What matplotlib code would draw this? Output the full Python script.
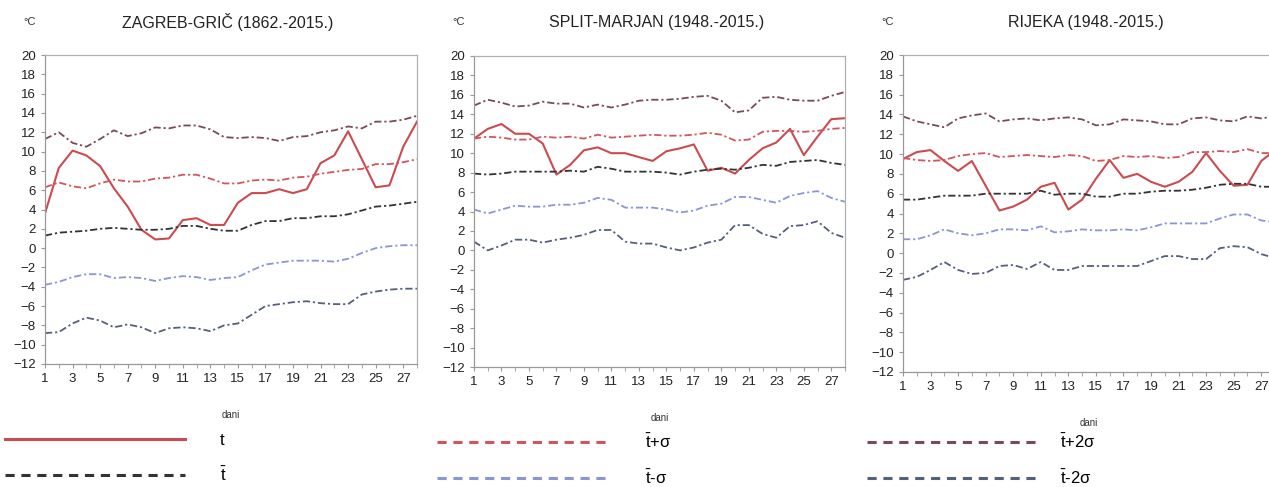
import matplotlib.pyplot as plt
import numpy as np

plt.rcParams['font.family'] = ['Liberation Sans', 'DejaVu Sans']
plt.rcParams['mathtext.fontset'] = 'custom'
plt.rcParams['mathtext.rm'] = 'Liberation Sans'

days = np.arange(1, 29)

# Zagreb-Grič (1862.-2015.)
zg_t = [3.6, 8.3, 10.1, 9.6, 8.5, 6.2, 4.3, 1.9, 0.9, 1.0, 2.9, 3.1, 2.4, 2.4,
        4.7, 5.7, 5.7, 6.1, 5.7, 6.1, 8.8, 9.6, 12.1, 9.2, 6.3, 6.5, 10.5, 13.1]
zg_mean = [1.3, 1.6, 1.7, 1.8, 2.0, 2.1, 2.0, 1.9, 1.9, 2.0, 2.3, 2.3, 2.0, 1.8,
           1.8, 2.4, 2.8, 2.8, 3.1, 3.1, 3.3, 3.3, 3.5, 3.9, 4.3, 4.4, 4.6, 4.8]
zg_p1 = [6.3, 6.8, 6.4, 6.2, 6.7, 7.1, 6.9, 6.9, 7.2, 7.3, 7.6, 7.6, 7.2, 6.7,
         6.7, 7.0, 7.1, 7.0, 7.3, 7.4, 7.7, 7.9, 8.1, 8.2, 8.7, 8.7, 8.9, 9.2]
zg_p2 = [11.3, 12.0, 10.9, 10.5, 11.3, 12.2, 11.6, 11.9, 12.5, 12.4, 12.7, 12.7, 12.3, 11.5,
         11.4, 11.5, 11.4, 11.1, 11.5, 11.6, 12.0, 12.2, 12.6, 12.4, 13.1, 13.1, 13.3, 13.7]
zg_m1 = [-3.8, -3.5, -3.0, -2.7, -2.7, -3.1, -3.0, -3.1, -3.4, -3.1, -2.9, -3.0, -3.3, -3.1,
         -3.0, -2.3, -1.7, -1.5, -1.3, -1.3, -1.3, -1.4, -1.1, -0.5, 0.0, 0.2, 0.3, 0.3]
zg_m2 = [-8.8, -8.7, -7.8, -7.2, -7.5, -8.2, -7.9, -8.2, -8.8, -8.3, -8.2, -8.3, -8.6, -8.0,
         -7.8, -6.9, -6.0, -5.8, -5.6, -5.5, -5.7, -5.8, -5.8, -4.8, -4.5, -4.3, -4.2, -4.2]

# Split-Marjan (1948.-2015.)
st_t = [11.5, 12.5, 13.0, 12.0, 12.0, 11.0, 7.8, 8.8, 10.3, 10.6, 10.0, 10.0, 9.6, 9.2,
        10.2, 10.5, 10.9, 8.2, 8.5, 7.9, 9.3, 10.5, 11.1, 12.5, 9.8, 11.7, 13.5, 13.6]
st_mean = [7.9, 7.8, 7.9, 8.1, 8.1, 8.1, 8.1, 8.2, 8.1, 8.6, 8.4, 8.1, 8.1, 8.1,
           8.0, 7.8, 8.1, 8.3, 8.4, 8.3, 8.5, 8.8, 8.7, 9.1, 9.2, 9.3, 9.0, 8.8]
st_p1 = [11.5, 11.7, 11.6, 11.4, 11.4, 11.7, 11.6, 11.7, 11.5, 11.9, 11.6, 11.7, 11.8, 11.9,
         11.8, 11.8, 11.9, 12.1, 11.9, 11.3, 11.4, 12.2, 12.3, 12.3, 12.2, 12.3, 12.5, 12.6]
st_p2 = [14.9, 15.5, 15.2, 14.8, 14.9, 15.3, 15.1, 15.1, 14.7, 15.0, 14.7, 15.0, 15.4, 15.5,
         15.5, 15.6, 15.8, 15.9, 15.4, 14.2, 14.4, 15.7, 15.8, 15.5, 15.4, 15.4, 15.9, 16.3]
st_m1 = [4.2, 3.8, 4.2, 4.6, 4.5, 4.5, 4.7, 4.7, 4.9, 5.4, 5.2, 4.4, 4.4, 4.4,
         4.2, 3.9, 4.1, 4.6, 4.8, 5.5, 5.5, 5.2, 4.9, 5.6, 5.9, 6.1, 5.4, 5.0]
st_m2 = [0.9, 0.0, 0.5, 1.1, 1.1, 0.8, 1.1, 1.3, 1.6, 2.1, 2.1, 0.9, 0.7, 0.7,
         0.3, 0.0, 0.3, 0.8, 1.1, 2.6, 2.6, 1.7, 1.3, 2.5, 2.6, 3.0, 1.8, 1.3]

# Rijeka (1948.-2015.)
ri_t = [9.5, 10.2, 10.4, 9.3, 8.3, 9.3, 6.8, 4.3, 4.7, 5.4, 6.7, 7.1, 4.4, 5.4,
        7.5, 9.4, 7.6, 8.0, 7.2, 6.7, 7.2, 8.2, 10.1, 8.3, 6.8, 6.9, 9.3, 10.4]
ri_mean = [5.4, 5.4, 5.6, 5.8, 5.8, 5.8, 6.0, 6.0, 6.0, 6.0, 6.3, 5.9, 6.0, 6.0,
           5.7, 5.7, 6.0, 6.0, 6.2, 6.3, 6.3, 6.4, 6.6, 6.9, 7.0, 7.0, 6.7, 6.7]
ri_p1 = [9.6, 9.4, 9.3, 9.4, 9.8, 10.0, 10.1, 9.7, 9.8, 9.9, 9.8, 9.7, 9.9, 9.8,
         9.3, 9.4, 9.8, 9.7, 9.8, 9.6, 9.7, 10.2, 10.2, 10.3, 10.2, 10.5, 10.1, 10.1]
ri_p2 = [13.8, 13.3, 13.0, 12.7, 13.6, 13.9, 14.1, 13.3, 13.5, 13.6, 13.4, 13.6, 13.7, 13.5,
         12.9, 13.0, 13.5, 13.4, 13.3, 13.0, 13.0, 13.6, 13.7, 13.4, 13.3, 13.8, 13.6, 13.8]
ri_m1 = [1.4, 1.4, 1.8, 2.4, 2.0, 1.8, 2.0, 2.4, 2.4, 2.3, 2.7, 2.1, 2.2, 2.4,
         2.3, 2.3, 2.4, 2.3, 2.6, 3.0, 3.0, 3.0, 3.0, 3.5, 3.9, 3.9, 3.3, 3.1]
ri_m2 = [-2.7, -2.4, -1.7, -0.9, -1.7, -2.1, -2.0, -1.3, -1.2, -1.6, -0.9, -1.7, -1.7, -1.3,
         -1.3, -1.3, -1.3, -1.3, -0.8, -0.3, -0.3, -0.6, -0.6, 0.5, 0.7, 0.6, -0.1, -0.5]

titles = ['ZAGREB-GRIČ (1862.-2015.)', 'SPLIT-MARJAN (1948.-2015.)', 'RIJEKA (1948.-2015.)']
stations = [
    (zg_t, zg_mean, zg_p1, zg_p2, zg_m1, zg_m2),
    (st_t, st_mean, st_p1, st_p2, st_m1, st_m2),
    (ri_t, ri_mean, ri_p1, ri_p2, ri_m1, ri_m2),
]
labels = ['t', r'$\bar{\mathrm{t}}$', r'$\bar{\mathrm{t}}$+σ', r'$\bar{\mathrm{t}}$-σ',
          r'$\bar{\mathrm{t}}$+2σ', r'$\bar{\mathrm{t}}$-2σ']

W, H = 1269, 487
# axes boxes in pixels: left, top, right, bottom
boxes = [(45, 55, 417, 364), (474, 56, 845, 367), (903, 55, 1275, 372)]

fig = plt.figure(figsize=(12.69, 4.87), dpi=100)

dash = (0, (4, 1.6, 1.2, 1.6))
handles = None
for i, (data, title, box) in enumerate(zip(stations, titles, boxes)):
    l, t, r, b = box
    ax = fig.add_axes([l / W, 1 - b / H, (r - l) / W, (b - t) / H])
    t_, mean, p1, p2, m1, m2 = data
    h1, = ax.plot(days, t_, color='#cc4b4f', lw=1.5, ls='-')
    h2, = ax.plot(days, mean, color='#333333', lw=1.3, ls=dash)
    h3, = ax.plot(days, p1, color='#d2555a', lw=1.3, ls=dash)
    h4, = ax.plot(days, m1, color='#8a96d6', lw=1.3, ls=dash)
    h5, = ax.plot(days, p2, color='#7a4a58', lw=1.3, ls=dash)
    h6, = ax.plot(days, m2, color='#55607e', lw=1.3, ls=dash)
    if handles is None:
        handles = [h1, h2, h3, h4, h5, h6]

    ax.set_xlim(1, 28)
    ax.set_ylim(-12, 20)
    ax.set_yticks(np.arange(-12, 21, 2))
    ax.set_xticks(np.arange(1, 28, 2))
    ax.set_xticks(np.arange(1, 29), minor=True)
    ax.tick_params(axis='both', labelsize=9.5, colors='#999999', labelcolor='#222222',
                   length=3, width=0.8, direction='out')
    ax.tick_params(axis='x', which='minor', length=3, colors='#999999')
    for s in ax.spines.values():
        s.set_color('#b0b0b0')
        s.set_linewidth(0.9)
    ax.spines['left'].set_color('#999999')
    ax.spines['bottom'].set_color('#999999')

    fig.text((l + r - 6) / 2 / W, 1 - 22 / H, title, ha='center', va='center',
             fontsize=11.5, color='#222222')
    fig.text((l - 15) / W, 1 - 22 / H, '°C', ha='center', va='center',
             fontsize=8, color='#333333')
    ax.set_xlabel('dani', fontsize=7, color='#333333', labelpad=18)

# legend, one column per panel: x, y, handle length, text pad
legend_pos = [(5, 433, 10.8, 2.1), (437, 433, 10.4, 2.1), (867, 433, 10.4, 1.2)]
for k, (x0, y0, hl, pad) in enumerate(legend_pos):
    leg = fig.legend(handles[2 * k:2 * k + 2], labels[2 * k:2 * k + 2],
                     loc='upper left', bbox_to_anchor=(x0 / W, 1 - y0 / H),
                     frameon=False, fontsize=12, handlelength=hl,
                     handletextpad=pad, labelspacing=1.05, borderaxespad=0,
                     borderpad=0)
    for lh in leg.get_lines():
        lh.set_linewidth(2.2)
        if lh.get_linestyle() != '-':
            lh.set_linestyle((0, (3, 2.2)))

fig.savefig('out.png', dpi=100)
